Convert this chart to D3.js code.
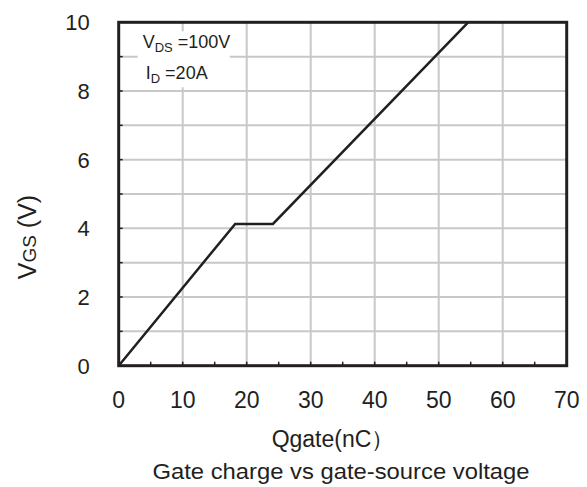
<!DOCTYPE html>
<html>
<head>
<meta charset="utf-8">
<script src="https://cdn.jsdelivr.net/npm/d3@7"></script>
<style>
  body { margin: 0; background: #fff; }
  svg { font-family: "Liberation Sans", Arial, sans-serif; }
</style>
</head>
<body>
<svg width="587" height="487"></svg>
<script>
// gate charge curve
let qgate = [0, 18.2, 24.1, 54.6];
let vgs = [0, 4.13, 4.13, 10];

let xTicks = [0, 10, 20, 30, 40, 50, 60, 70];
let yTicks = [0, 2, 4, 6, 8, 10];
let xMinor = [5, 15, 25, 35, 45, 55, 65];
let yMinor = [1, 2, 3, 4, 5, 6, 7, 8, 9];
let xGrid = [10, 20, 30, 40, 50, 60];
let yGrid = [1, 2, 3, 4, 5, 6, 7, 8, 9];

let svg = d3.select("svg");
let margin = {top: 22.3, right: 20.3, bottom: 121.3, left: 118.7};
let width = +svg.attr("width") - margin.left - margin.right;
let height = +svg.attr("height") - margin.top - margin.bottom;
let g = svg.append("g").attr("transform", `translate(${margin.left},${margin.top})`);

let x = d3.scaleLinear().domain([0, 70]).range([0, width]);
let y = d3.scaleLinear().domain([0, 10]).range([height, 0]);

let ink = "#231f20";
let gridColor = "#c8c8c8";

// gridlines
g.append("g")
    .selectAll("line")
    .data(xGrid)
    .join("line")
    .attr("x1", d => x(d)).attr("x2", d => x(d))
    .attr("y1", 0).attr("y2", height)
    .attr("stroke", gridColor)
    .attr("stroke-width", 2);

g.append("g")
    .selectAll("line")
    .data(yGrid)
    .join("line")
    .attr("x1", 0).attr("x2", width)
    .attr("y1", d => y(d)).attr("y2", d => y(d))
    .attr("stroke", gridColor)
    .attr("stroke-width", 2);

// legend box (white background over the grid)
let legend = g.append("g").attr("transform", "translate(19,9)");
legend.append("rect")
    .attr("width", 92).attr("height", 56)
    .attr("fill", "#fff");

let t1 = legend.append("text").attr("x", 5).attr("y", 17).attr("font-size", 18).attr("fill", ink);
t1.append("tspan").text("V");
t1.append("tspan").attr("font-size", 13).attr("dy", 4).text("DS");
t1.append("tspan").attr("dy", -4).text(" =100V");

let t2 = legend.append("text").attr("x", 8).attr("y", 48).attr("font-size", 18).attr("fill", ink);
t2.append("tspan").text("I");
t2.append("tspan").attr("font-size", 13).attr("dy", 4).text("D");
t2.append("tspan").attr("dy", -4).text(" =20A");

// inward ticks
g.append("g")
    .selectAll("line")
    .data(xMinor.concat(xGrid))
    .join("line")
    .attr("x1", d => x(d)).attr("x2", d => x(d))
    .attr("y1", height).attr("y2", height - 4)
    .attr("stroke", ink)
    .attr("stroke-width", 1.5);

g.append("g")
    .selectAll("line")
    .data(yMinor)
    .join("line")
    .attr("x1", 0).attr("x2", 4)
    .attr("y1", d => y(d)).attr("y2", d => y(d))
    .attr("stroke", ink)
    .attr("stroke-width", 1.5);

// curve
let line = d3.line()
    .x(d => x(d[0]))
    .y(d => y(d[1]));

g.append("path")
    .datum(d3.zip(qgate, vgs))
    .attr("fill", "none")
    .attr("stroke", ink)
    .attr("stroke-width", 2.5)
    .attr("d", line);

// frame
g.append("rect")
    .attr("width", width).attr("height", height)
    .attr("fill", "none")
    .attr("stroke", ink)
    .attr("stroke-width", 3);

// tick labels
g.append("g")
    .selectAll("text")
    .data(xTicks)
    .join("text")
    .attr("x", d => x(d))
    .attr("y", height + 42)
    .attr("text-anchor", "middle")
    .attr("font-size", 23)
    .attr("fill", ink)
    .text(d => d);

g.append("g")
    .selectAll("text")
    .data(yTicks)
    .join("text")
    .attr("x", -29)
    .attr("y", d => y(d))
    .attr("dy", "0.36em")
    .attr("text-anchor", "end")
    .attr("font-size", 22)
    .attr("fill", ink)
    .text(d => d);

// axis titles
let yt = svg.append("text")
    .attr("transform", "translate(36,237) rotate(-90)")
    .attr("text-anchor", "middle")
    .attr("font-size", 25)
    .attr("fill", ink);
yt.append("tspan").text("V");
yt.append("tspan").attr("font-size", 19).text("GS");
yt.append("tspan").text(" (V)");

svg.append("text")
    .attr("x", 333)
    .attr("y", 447)
    .attr("text-anchor", "middle")
    .attr("font-size", 23)
    .attr("fill", ink)
    .text("Qgate(nC\uFF09");

svg.append("text")
    .attr("x", 341)
    .attr("y", 479)
    .attr("text-anchor", "middle")
    .attr("font-size", 22)
    .attr("textLength", 377)
    .attr("lengthAdjust", "spacingAndGlyphs")
    .attr("fill", ink)
    .text("Gate charge vs gate-source voltage");
</script>
</body>
</html>
